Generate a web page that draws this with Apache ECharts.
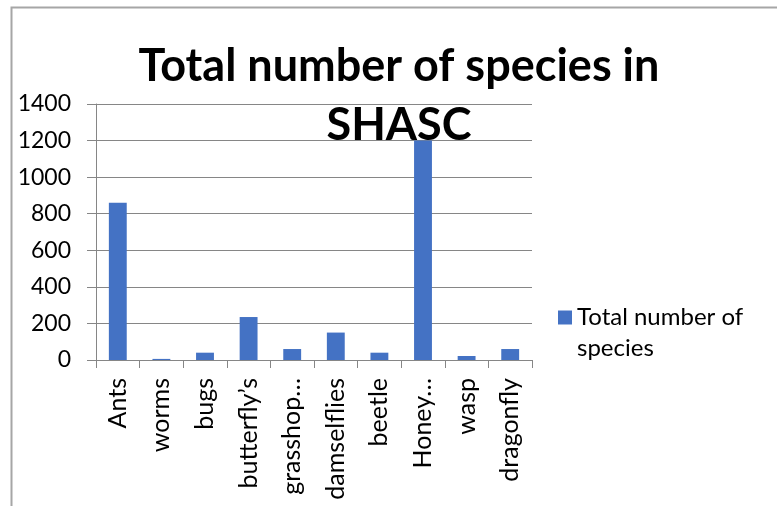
<!DOCTYPE html>
<html>
<head>
<meta charset="utf-8">
<script src="https://cdn.jsdelivr.net/npm/echarts@6/dist/echarts.min.js"></script>
<style>
  html, body { margin: 0; padding: 0; background: #ffffff; }
  #chart { width: 777px; height: 506px; }
</style>
</head>
<body>
<div id="chart"></div>
<script>
// Insect groups recorded at SHASC and how many species each has
const categories = ['Ants', 'worms', 'bugs', 'butterfly\u2019s', 'grasshop\u2026', 'damselflies', 'beetle', 'Honey\u2026', 'wasp', 'dragonfly'];
const speciesCounts = [860, 6, 40, 235, 60, 150, 40, 1200, 22, 60];
const yTicks = { min: 0, max: 1400, interval: 200 };
const seriesName = 'Total number of species';

const FONT = 'Lato, "Open Sans", sans-serif';
const AXIS_GRAY = '#868686';

const chart = echarts.init(document.getElementById('chart'), null, { renderer: 'canvas' });

chart.setOption({
  backgroundColor: '#ffffff',
  animation: false,
  title: {
    text: 'Total number of species in\nSHASC',
    left: 394,
    top: 32,
    textAlign: 'center',
    textStyle: {
      fontFamily: FONT,
      fontWeight: 'bold',
      fontSize: 45,
      lineHeight: 59,
      color: '#000000'
    }
  },
  legend: {
    left: 553,
    top: 266,
    orient: 'vertical',
    icon: 'rect',
    itemWidth: 14,
    itemHeight: 14,
    itemGap: 8,
    // a blank leading line keeps the swatch level with the first text line
    formatter: () => ' \nTotal number of\nspecies',
    textStyle: {
      fontFamily: FONT,
      fontSize: 24,
      lineHeight: 31,
      color: '#000000'
    },
    data: [seriesName]
  },
  grid: {
    left: 96,
    right: 245,
    top: 104,
    bottom: 146,
    containLabel: false
  },
  xAxis: {
    type: 'category',
    data: categories,
    boundaryGap: true,
    axisLine: { show: true, lineStyle: { color: AXIS_GRAY, width: 1 } },
    axisTick: { show: true, alignWithLabel: false, length: 8, lineStyle: { color: AXIS_GRAY } },
    axisLabel: {
      rotate: 90,
      margin: 18,
      interval: 0,
      fontFamily: FONT,
      fontSize: 25,
      color: '#000000'
    },
    splitLine: { show: false }
  },
  yAxis: {
    type: 'value',
    min: yTicks.min,
    max: yTicks.max,
    interval: yTicks.interval,
    axisLine: { show: true, lineStyle: { color: AXIS_GRAY, width: 1 } },
    axisTick: { show: true, length: 9, lineStyle: { color: AXIS_GRAY } },
    axisLabel: {
      margin: 25,
      fontFamily: FONT,
      fontSize: 23,
      color: '#000000',
      formatter: (v) => String(v)
    },
    splitLine: { show: true, lineStyle: { color: AXIS_GRAY, width: 1 } }
  },
  series: [{
    name: seriesName,
    type: 'bar',
    data: speciesCounts,
    barWidth: '41%',
    itemStyle: { color: '#4472C4' }
  }],
  graphic: [{
    type: 'rect',
    left: 9,
    top: 5,
    shape: { width: 767, height: 520 },
    style: { fill: 'none', stroke: '#a6a6a6', lineWidth: 2 },
    silent: true,
    z: -1
  }]
});
</script>
</body>
</html>
